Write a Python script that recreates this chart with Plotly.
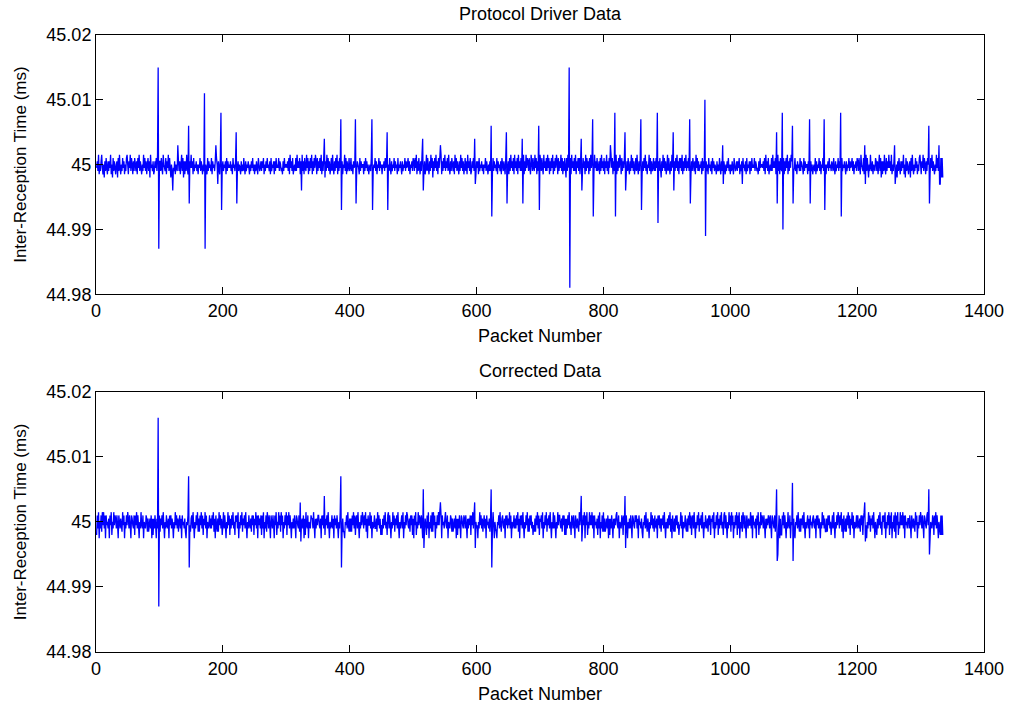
import plotly.graph_objects as go

# ---------------- data ----------------
# Baseline jitter, one digit per packet: value = 45 + (digit - 6) * 0.0005 ms
driver_noise_rows = [
    "5749364795 3627485374 7593628475 3672849536 4857364896",
    "3759486374 8647385947 5364958473 6847295647 3475849637",
    "7485396548 3759485264 9547365487 4736948273 7495384759",
    "5738465746 3658475364 7465384756 4837564738 6475384657",
    "4657384756 5746385647 3857465374 6485374657 5364758463",
    "6475386457 4758364758 5647384657 3748565847 6453748566",
    "5748395748 3564849575 8375947385 4958374859 3748597384",
    "7584937485 2749584735 8495374859 3748594736 5948374584",
    "5846375648 4765384756 6374857463 5648374658 4736584756",
    "3657485647 6485374658 4756384657 5374658475 6847365748",
    "7485937485 3749584735 9485374958 2748594738 5849374859",
    "4758495374 8647395847 5374958473 5847395748 3475849537",
    "5738465746 3658475364 7465384756 4837564738 6475384657",
    "3849574839 5748395748 4859374958 7485397485 4958374859",
    "7485395748 4958374859 3748597384 7594837485 2849574839",
    "5748493758 4837594857 3948573849 5748395748 4573849574",
    "8375947385 4958374859 3748597384 7584937485 3749584735",
    "8495374859 3748594736 5948374584 7485937485 2749584735",
    "9485374958 3748594738 5849374859 4758495374 8647395847",
    "4657384756 5746385647 3857465374 6485374657 5364758463",
    "6475386457 4758364758 5647384657 3748565847 6453748566",
    "5748395748 3564849575 8375947385 4958374859 3748597384",
    "5846375648 4765384756 6374857463 5648374658 4736584756",
    "3657485647 6485374658 4756384657 5374658475 6847365748",
    "7485396548 3759485264 9547365487 4736948273 7495384759",
    "5749364795 3627485374 7593628475 3672849536 4857364896",
    "3759486374 8647385947 5364958473 38282",
]
driver_spike_idx = [98, 99, 121, 129, 146, 147, 171, 172, 189, 192, 197, 198,
                    221, 222, 324, 360, 386, 387, 409, 410, 435, 436, 459, 460,
                    515, 516, 543, 597, 598, 623, 624, 647, 648, 672, 673,
                    698, 699, 746, 747, 765, 766, 783, 784, 811, 818, 819,
                    834, 835, 859, 860, 885, 886, 910, 911, 936, 937, 960, 961,
                    988, 989, 1019, 1073, 1074, 1082, 1083, 1098, 1099,
                    1125, 1126, 1148, 1149, 1174, 1175, 1212, 1213, 1259, 1260,
                    1313, 1314, 1329, 1330, 1331]
driver_spike_val = [45.015, 44.987, 44.996, 45.003, 45.006, 44.994, 45.011, 44.987,
                    45.003, 44.997, 45.008, 44.993, 45.005, 44.994, 44.996, 45.004,
                    45.007, 44.993, 45.007, 44.994, 45.007, 44.993, 45.005, 44.993,
                    45.004, 44.996, 45.003, 45.004, 44.997, 45.006, 44.992,
                    45.005, 44.994, 45.004, 44.994, 45.006, 44.993, 45.015, 44.981,
                    45.004, 44.996, 45.007, 44.992, 45.003, 45.008, 44.992,
                    45.005, 44.996, 45.007, 44.993, 45.008, 44.991, 45.005, 44.996,
                    45.007, 44.994, 45.010, 44.989, 45.003, 44.997, 44.997,
                    45.005, 44.994, 45.008, 44.990, 45.006, 44.994,
                    45.007, 44.994, 45.007, 44.993, 45.008, 44.992, 45.003, 44.997,
                    45.003, 44.997, 45.006, 44.994, 45.003, 44.997, 44.997]

corrected_noise_rows = [
    "2849164839 5948185647 1859264958 7485186475 3958164859",
    "7485187548 2859485164 9548165487 3735748172 7485174758",
    "3758495164 8547185847 5164958473 6847185647 3165849537",
    "8495164859 3738594827 5948164584 7485937185 3739584725",
    "9485164958 2748594628 6849164859 3758495164 8547385827",
    "5948185748 2849164839 7485186485 1859264958 3958164859",
    "2859485164 7485187548 3836748172 9548165487 7495174758",
    "8547185847 3758495164 5847185748 5164958473 3165849537",
    "3738594827 8495164859 7485937185 5948164584 4739584725",
    "2748594628 9485164958 3758495164 6849164859 8547385827",
    "1859264958 7485186475 2849164839 3958164859 5948185647",
    "9548165487 3735748172 7485187548 7485174758 2859485164",
    "5164958473 6847185647 3758495164 3165849537 8547185847",
    "5948164584 7485937185 8495164859 3738584625 3738594827",
    "6849164859 3758495164 9485164958 8547385827 2748594628",
    "7485186475 3958164859 1859264958 5948185647 2849164839",
    "3735748172 7485174758 9548165487 2859485164 7485187548",
    "6847185647 3165849537 5164958473 8547185847 3758495164",
    "7485937185 3738584625 5948164584 3738594827 8495164859",
    "3758495164 8547385827 6849164859 2748594628 9485164958",
    "3958164859 2849164839 7485186475 5948185647 1859264958",
    "7485174758 7485187548 3735748172 2859485164 9548165487",
    "3165849537 3758495164 6847185647 8547185847 5164958473",
    "3738584625 8495164859 7485937185 3738594827 5948164584",
    "8547385827 9485164958 3758495164 2748594628 6849164859",
    "2849164839 1859264958 5948185647 7485186475 3958164859",
    "7485187548 9548165487 2859485164 28282",
]
corrected_spike_idx = [98, 99, 146, 147, 322, 323, 360, 361, 386, 387,
                       516, 517, 543, 597, 598, 623, 624, 765, 766, 834, 835,
                       1073, 1074, 1075, 1098, 1099, 1212, 1213, 1313, 1314]
corrected_spike_val = [45.016, 44.987, 45.007, 44.993, 45.003, 44.997, 45.004, 44.998,
                       45.007, 44.993, 45.005, 44.996, 45.003, 45.003, 44.996,
                       45.005, 44.993, 45.004, 44.997, 45.004, 44.996,
                       45.005, 44.994, 44.995, 45.006, 44.994, 45.003, 44.997,
                       45.005, 44.995]

x_tick_vals = [0, 200, 400, 600, 800, 1000, 1200, 1400]
y_tick_vals = [44.98, 44.99, 45.0, 45.01, 45.02]
y_tick_text = ["44.98", "44.99", "45", "45.01", "45.02"]
titles = ["Protocol Driver Data", "Corrected Data"]
x_label = "Packet Number"
y_label = "Inter-Reception Time (ms)"


def build(rows, idx, val):
    digits = "".join(rows).replace(" ", "")
    y = [round(45 + (int(d) - 6) * 0.0005, 5) for d in digits]
    for i, v in zip(idx, val):
        y[i - 1] = v
    x = list(range(1, len(y) + 1))
    return x, y


x1, y1 = build(driver_noise_rows, driver_spike_idx, driver_spike_val)
x2, y2 = build(corrected_noise_rows, corrected_spike_idx, corrected_spike_val)

FONT = "Liberation Sans, Arial, sans-serif"
FS = 18
fig = go.Figure()
fig.add_trace(go.Scatter(x=x1, y=y1, mode="lines", line=dict(color="#0000FF", width=1.3, simplify=False),
                         xaxis="x", yaxis="y", showlegend=False))
fig.add_trace(go.Scatter(x=x2, y=y2, mode="lines", line=dict(color="#0000FF", width=1.3, simplify=False),
                         xaxis="x2", yaxis="y2", showlegend=False))

axis_common = dict(showline=True, linecolor="black", linewidth=1, mirror="ticks",
                   ticks="inside", ticklen=7, tickcolor="black", showgrid=False,
                   zeroline=False, tickfont=dict(family=FONT, size=FS, color="black"))

top_dom = [0.5799, 1.0]
bot_dom = [0.0, 0.4217]

fig.update_layout(
    width=1016, height=712,
    margin=dict(l=96, r=28, t=35, b=51),
    paper_bgcolor="white", plot_bgcolor="white",
    font=dict(family=FONT, size=FS, color="black"),
    xaxis=dict(domain=[0, 1], anchor="y", range=[0, 1400], tickvals=x_tick_vals,
               title=dict(text=x_label, standoff=9, font=dict(size=FS)), **axis_common),
    yaxis=dict(domain=top_dom, anchor="x", range=[44.98, 45.02], tickvals=y_tick_vals,
               ticktext=y_tick_text,
               title=dict(text=y_label, standoff=15, font=dict(size=17)), **axis_common),
    xaxis2=dict(domain=[0, 1], anchor="y2", range=[0, 1400], tickvals=x_tick_vals,
                title=dict(text=x_label, standoff=9, font=dict(size=FS)), **axis_common),
    yaxis2=dict(domain=bot_dom, anchor="x2", range=[44.98, 45.02], tickvals=y_tick_vals,
                ticktext=y_tick_text,
                title=dict(text=y_label, standoff=15, font=dict(size=17)), **axis_common),
    annotations=[
        dict(text=titles[0], xref="paper", yref="paper", x=0.5, y=top_dom[1],
             yanchor="middle", yshift=21, showarrow=False, font=dict(family=FONT, size=FS)),
        dict(text=titles[1], xref="paper", yref="paper", x=0.5, y=bot_dom[1],
             yanchor="middle", yshift=21, showarrow=False, font=dict(family=FONT, size=FS)),
    ],
)

fig.write_html("out.html")
